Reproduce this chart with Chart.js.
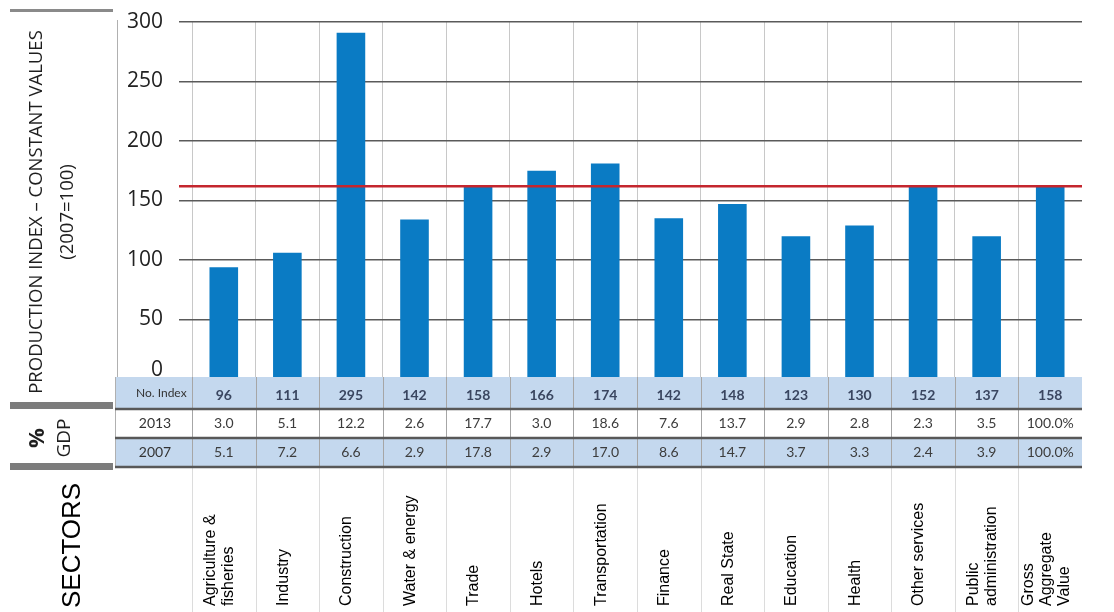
<!DOCTYPE html>
<html>
<head>
<meta charset="utf-8">
<script src="https://cdn.jsdelivr.net/npm/chart.js@4.4.1/dist/chart.umd.min.js"></script>
<style>
  html, body { margin: 0; padding: 0; background: #fff; }
  #wrap { width: 1114px; height: 612px; position: relative; }
</style>
</head>
<body>
<div id="wrap"><canvas id="chart"></canvas></div>
<script>
// Dados
const sectors = [
  ['Agriculture &', 'fisheries'], ['Industry'], ['Construction'], ['Water & energy'],
  ['Trade'], ['Hotels'], ['Transportation'], ['Finance'], ['Real State'], ['Education'],
  ['Health'], ['Other services'], ['Public', 'administration'], ['Gross', 'Aggregate', 'Value']
];
const barValues = [94, 106, 291, 134, 162, 175, 181, 135, 147, 120, 129, 162, 120, 162];
const indexValues = ['96', '111', '295', '142', '158', '166', '174', '142', '148', '123', '130', '152', '137', '158'];
const gdp2013 = ['3.0', '5.1', '12.2', '2.6', '17.7', '3.0', '18.6', '7.6', '13.7', '2.9', '2.8', '2.3', '3.5', '100.0%'];
const gdp2007 = ['5.1', '7.2', '6.6', '2.9', '17.8', '2.9', '17.0', '8.6', '14.7', '3.7', '3.3', '2.4', '3.9', '100.0%'];
const rowLabels = ['No. Index', '2013', '2007'];
const refLine = 162;
const yTitle = ['PRODUCTION INDEX \u2013 CONSTANT VALUES', '(2007=100)'];

// desenha texto rodado (de baixo para cima)
function rotText(ctx, lines, cx, cy, lh, align) {
  ctx.save();
  ctx.translate(cx, cy);
  ctx.rotate(-Math.PI / 2);
  ctx.textAlign = align;
  ctx.textBaseline = 'middle';
  lines.forEach((l, i) => ctx.fillText(l, 0, (i - (lines.length - 1) / 2) * lh));
  ctx.restore();
}

const tabela = {
  id: 'tabela',
  afterDatasetsDraw(chart) {
    const { ctx, chartArea, scales: { y } } = chart;
    const yr = y.getPixelForValue(refLine);
    ctx.save();
    ctx.strokeStyle = '#c4262e';
    ctx.lineWidth = 2.5;
    ctx.beginPath();
    ctx.moveTo(chartArea.left - 13, yr);
    ctx.lineTo(chartArea.right, yr);
    ctx.stroke();
    ctx.restore();
  },
  afterDraw(chart) {
    const { ctx, chartArea, scales: { x, y } } = chart;
    const colW = (chartArea.right - chartArea.left) / sectors.length;
    const top = y.getPixelForValue(0) - 2;
    const rows = [top, top + 32, top + 61, top + 90];
    const left = 115;
    const right = chartArea.right;

    ctx.save();
    // fundos das linhas
    ctx.fillStyle = '#c4d8ee';
    ctx.fillRect(left, rows[0], right - left, rows[1] - rows[0]);
    ctx.fillRect(left, rows[2], right - left, rows[3] - rows[2]);
    ctx.fillStyle = '#fff';
    ctx.fillRect(left, rows[1], right - left, rows[2] - rows[1]);

    // linhas verticais
    ctx.lineWidth = 1;
    for (let i = 0; i < sectors.length; i++) {
      const xe = Math.round(x.getPixelForValue(i) - colW / 2) + 0.5;
      ctx.strokeStyle = '#a6a6a6';
      ctx.beginPath(); ctx.moveTo(xe, rows[0]); ctx.lineTo(xe, rows[3]); ctx.stroke();
      ctx.strokeStyle = '#dcdcdc';
      ctx.beginPath(); ctx.moveTo(xe, rows[3]); ctx.lineTo(xe, 612); ctx.stroke();
    }
    ctx.strokeStyle = '#b0b0b0';
    ctx.beginPath(); ctx.moveTo(left + 0.5, rows[0]); ctx.lineTo(left + 0.5, rows[3]); ctx.stroke();
    ctx.beginPath(); ctx.moveTo(117.5, 20); ctx.lineTo(117.5, rows[0]); ctx.stroke();

    // linhas horizontais escuras
    ctx.strokeStyle = '#585858';
    ctx.lineWidth = 2.5;
    [rows[1], rows[2], rows[3]].forEach(ry => {
      ctx.beginPath(); ctx.moveTo(left, ry); ctx.lineTo(right, ry); ctx.stroke();
    });

    // barras cinzentas à esquerda
    ctx.fillStyle = '#8a8a8a';
    ctx.fillRect(10, 9, 103, 3);
    ctx.fillStyle = '#7c7c7c';
    ctx.fillRect(10, rows[1] - 7, 103, 7);
    ctx.fillRect(10, rows[3] - 4, 103, 7);

    // textos da tabela
    ctx.textBaseline = 'middle';
    ctx.textAlign = 'left';
    ctx.fillStyle = '#333';
    ctx.font = '12px Lato';
    ctx.fillText(rowLabels[0], 136, (rows[0] + rows[1]) / 2);
    ctx.textAlign = 'center';
    ctx.font = '14px Lato';
    ctx.fillText(rowLabels[1], 155, (rows[1] + rows[2]) / 2);
    ctx.fillText(rowLabels[2], 155, (rows[2] + rows[3]) / 2);

    sectors.forEach((s, i) => {
      const cx = x.getPixelForValue(i);
      ctx.font = 'bold 14px Lato';
      ctx.fillStyle = '#3a4660';
      ctx.fillText(indexValues[i], cx, (rows[0] + rows[1]) / 2 + 2);
      ctx.font = '14px Lato';
      ctx.fillStyle = '#3c3c3c';
      ctx.fillText(gdp2013[i], cx, (rows[1] + rows[2]) / 2);
      ctx.fillText(gdp2007[i], cx, (rows[2] + rows[3]) / 2);
    });

    // nomes dos setores
    ctx.fillStyle = '#000';
    ctx.font = '16px "Liberation Sans"';
    sectors.forEach((s, i) => {
      rotText(ctx, s, x.getPixelForValue(i) - 4, 606, 18, 'left');
    });
    ctx.font = '26px "Liberation Sans"';
    rotText(ctx, ['SECTORS'], 73, 608, 0, 'left');

    // título do eixo y
    ctx.fillStyle = '#1e1e1e';
    ctx.font = '18.5px "Open Sans"';
    rotText(ctx, [yTitle[0]], 37, 212, 0, 'center');
    rotText(ctx, [yTitle[1]], 68, 212, 0, 'center');

    ctx.font = 'bold 22px "Open Sans"';
    rotText(ctx, ['%'], 38, (rows[1] + rows[3]) / 2, 0, 'center');
    ctx.font = '19px "Open Sans"';
    rotText(ctx, ['GDP'], 65, (rows[1] + rows[3]) / 2, 0, 'center');
    ctx.restore();
  }
};

const ctx = document.getElementById('chart').getContext('2d');
const grafico = new Chart(ctx, {
  type: 'bar',
  data: {
    labels: sectors,
    datasets: [{
      label: 'Production index',
      data: barValues,
      backgroundColor: '#0a7bc4',
      borderWidth: 0,
      barPercentage: 0.45,
      categoryPercentage: 1
    }]
  },
  options: {
    responsive: true,
    maintainAspectRatio: false,
    animation: false,
    layout: { padding: { left: 0, right: 32, top: 22, bottom: 233 } },
    plugins: {
      legend: { display: false },
      tooltip: { enabled: false }
    },
    scales: {
      x: {
        ticks: { display: false },
        border: { display: false },
        grid: {
          drawTicks: false,
          color: c => c.type === 'tick' ? '#c8c8c8' : 'rgba(0,0,0,0)',
          lineWidth: 1
        }
      },
      y: {
        min: 0,
        max: 300,
        afterFit: scale => {
          scale.width = 192;
          scale.paddingTop = 0;
          scale.paddingBottom = 0;
        },
        ticks: {
          stepSize: 50,
          padding: 16,
          color: '#222',
          // o "0" fica um pouco acima, meio tapado pela tabela
          callback: v => v === 0 ? ['0', ''] : v,
          font: c => ({
            family: '"Open Sans"',
            size: 21,
            lineHeight: c.tick && c.tick.value === 0 ? 0.85 : 1.2
          })
        },
        border: { display: false },
        grid: { color: '#5a5a5a', lineWidth: 1.5, tickLength: 13 }
      }
    }
  },
  plugins: [tabela]
});
</script>
</body>
</html>
